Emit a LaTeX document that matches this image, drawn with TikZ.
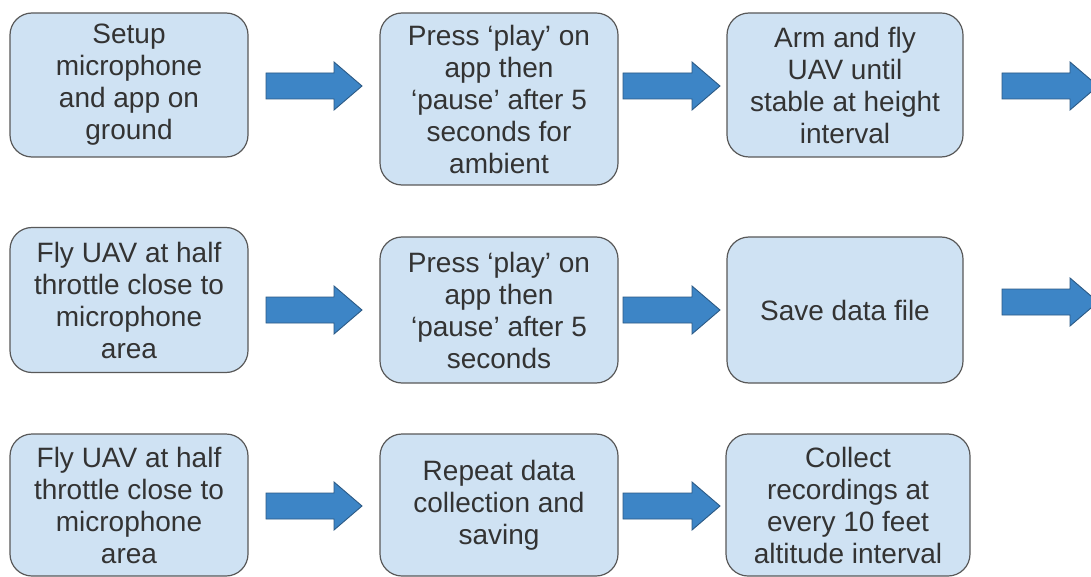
\documentclass[tikz,border=0pt]{standalone}
\usepackage{fontspec}
\setmainfont{Liberation Sans}
\definecolor{boxfill}{HTML}{CFE2F3}
\definecolor{boxedge}{HTML}{595959}
\definecolor{txt}{HTML}{333333}
\definecolor{arrfill}{HTML}{3D85C6}
\definecolor{arredge}{HTML}{2C5A85}
\tikzset{
  stepbox/.style={draw=boxedge, fill=boxfill, line width=1.2pt, rounded corners=22pt,
    align=center, text=txt, inner sep=0pt, font=\fontsize{28}{32}\selectfont},
  blockarrow/.style={fill=arrfill, draw=arredge, line width=0.9pt, line join=miter}
}
\newcommand\barr[3]{%
  \draw[blockarrow] (#1,#3-13) -- (#2-28,#3-13) -- (#2-28,#3-24) -- (#2,#3)
    -- (#2-28,#3+24) -- (#2-28,#3+13) -- (#1,#3+13) -- cycle;}
\begin{document}
\begin{tikzpicture}[x=1pt,y=-1pt]
\clip (0,0) rectangle (1091,577);
\fill[white] (0,0) rectangle (1091,577);
% row 1
\node[stepbox, minimum width=238pt, minimum height=144pt] (b1) at (129,85)
  {Setup\\microphone\\and app on\\ground};
\node[stepbox, minimum width=238pt, minimum height=172pt] (b2) at (499,99)
  {Press ‘play’ on\\app then\\‘pause’ after 5\\seconds for\\ambient};
\node[stepbox, minimum width=236pt, minimum height=144pt] (b3) at (845,85)
  {Arm and fly\\UAV until\\stable at height\\interval};
% row 2
\node[stepbox, minimum width=238pt, minimum height=145pt] (b4) at (129,300)
  {Fly UAV at half\\throttle close to\\microphone\\area};
\node[stepbox, minimum width=238pt, minimum height=146pt] (b5) at (499,310)
  {Press ‘play’ on\\app then\\‘pause’ after 5\\seconds};
\node[stepbox, minimum width=236pt, minimum height=146pt] (b6) at (845,310)
  {Save data file};
% row 3
\node[stepbox, minimum width=238pt, minimum height=142pt] (b7) at (129,505)
  {Fly UAV at half\\throttle close to\\microphone\\area};
\node[stepbox, minimum width=238pt, minimum height=142pt] (b8) at (499,505)
  {Repeat data\\collection and\\saving};
\node[stepbox, minimum width=244pt, minimum height=142pt] (b9) at (848,505)
  {Collect\\recordings at\\every 10 feet\\altitude interval};
% arrows
\barr{266}{362}{86}
\barr{623}{720}{86}
\barr{1002}{1098}{86}
\barr{266}{362}{310}
\barr{623}{720}{310}
\barr{1002}{1098}{302}
\barr{266}{362}{506}
\barr{623}{720}{506}
\end{tikzpicture}
\end{document}
